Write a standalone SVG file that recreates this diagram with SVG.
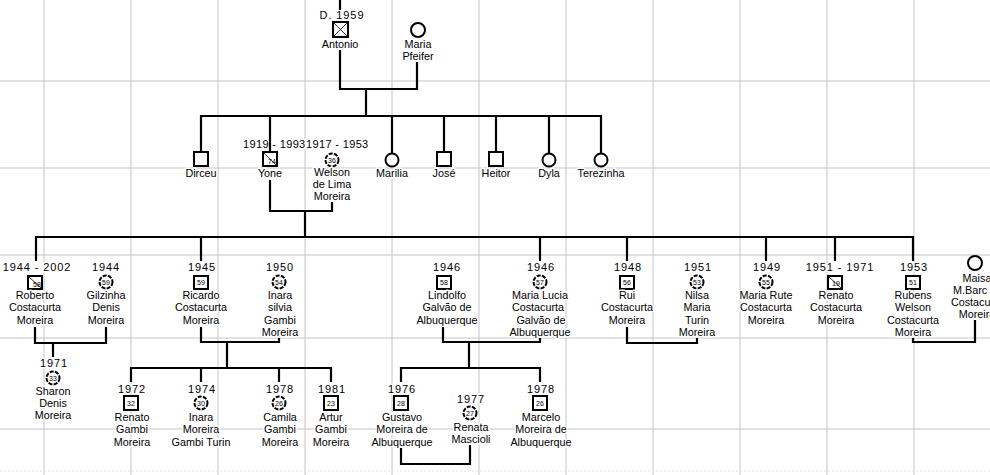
<svg xmlns="http://www.w3.org/2000/svg" width="990" height="475" viewBox="0 0 990 475">
<style>
.g{stroke:#c4c4c4;stroke-width:1;fill:none}
.c{stroke:#000;stroke-width:2.2;fill:none;stroke-linecap:square}
.b{fill:#fff;stroke:#000;stroke-width:2}
.o{fill:#fff;stroke:#000;stroke-width:2}
.on{fill:#fff;stroke:#000;stroke-width:2;stroke-dasharray:4 1.3}
.d{stroke:#000;stroke-width:0.8}
text{font-family:"Liberation Sans",Arial,sans-serif;fill:#000;text-anchor:middle;paint-order:stroke;stroke:#fff;stroke-width:3px;stroke-linejoin:round}
.t{font-size:10.8px}
.y{font-size:11px;letter-spacing:0.9px}
.yt{font-size:11px;letter-spacing:0.35px;text-anchor:start}
.n{font-size:7px;stroke:none}
</style>
<rect width="990" height="475" fill="#fff"/>
<g id="grid" class="g">
<path d="M44 0V475M131 0V475M218 0V475M305 0V475M392 0V475M479 0V475M566 0V475M653 0V475M740 0V475M827 0V475M914 0V475"/>
<path d="M0 81H990M0 168H990M0 255H990M0 338H990M0 429H990"/>
<path d="M0 471H990" stroke="#e6e6e6" stroke-dasharray="2 2"/>
</g>

<g id="antonio">
<text class="y" x="342" y="19">D. 1959</text>
<rect class="b" x="333" y="22" width="15" height="15"/>
<path class="d" d="M334 23L347 36M347 23L334 36"/>
<text class="t" x="340" y="48">Antonio</text>
</g>
<g id="maria-pfeifer">
<circle class="o" cx="418" cy="30" r="7"/>
<text class="t" x="418" y="48">Maria</text>
<text class="t" x="418" y="60">Pfeifer</text>
</g>

<g id="dirceu"><rect class="b" x="194" y="152" width="14" height="14"/><text class="t" x="201" y="177">Dirceu</text></g>
<g id="yone">
<text class="yt" x="243" y="148">1919 - 1993</text>
<rect class="b" x="263" y="152" width="14" height="14"/>
<line class="d" x1="264" y1="153" x2="276" y2="165"/>
<text class="n" x="272" y="164">74</text>
<text class="t" x="270" y="177">Yone</text>
</g>
<g id="welson">
<text class="yt" x="306" y="148">1917 - 1953</text>
<circle class="on" cx="332" cy="160" r="6.5"/>
<text class="n" x="332" y="162.5">36</text>
<text class="t" x="332" y="176">Welson</text>
<text class="t" x="332" y="188">de Lima</text>
<text class="t" x="332" y="200">Moreira</text>
</g>
<g id="marilia"><circle class="o" cx="392" cy="160" r="6.5"/><text class="t" x="392" y="177">Marilia</text></g>
<g id="jose"><rect class="b" x="437" y="152" width="14" height="14"/><text class="t" x="444" y="177">José</text></g>
<g id="heitor"><rect class="b" x="489" y="152" width="14" height="14"/><text class="t" x="496" y="177">Heitor</text></g>
<g id="dyla"><circle class="o" cx="549" cy="160" r="6.5"/><text class="t" x="549" y="177">Dyla</text></g>
<g id="terezinha"><circle class="o" cx="601" cy="160" r="6.5"/><text class="t" x="601" y="177">Terezinha</text></g>

<g id="roberto">
<text class="y" x="37" y="271">1944 - 2002</text>
<rect class="b" x="28" y="276" width="14" height="13"/>
<line class="d" x1="29" y1="277" x2="41" y2="288"/>
<text class="n" x="37" y="286.5">58</text>
<text class="t" x="35" y="299">Roberto</text><text class="t" x="35" y="311">Costacurta</text><text class="t" x="35" y="324">Moreira</text>
</g>
<g id="gilzinha">
<text class="y" x="106" y="271">1944</text>
<circle class="on" cx="106" cy="282" r="6.5"/><text class="n" x="106" y="284.5">59</text>
<text class="t" x="106" y="299">Gilzinha</text><text class="t" x="106" y="311">Denis</text><text class="t" x="106" y="324">Moreira</text>
</g>
<g id="ricardo">
<text class="y" x="202" y="271">1945</text>
<rect class="b" x="194" y="276" width="14" height="13"/><text class="n" x="201" y="285">59</text>
<text class="t" x="201" y="299">Ricardo</text><text class="t" x="201" y="311">Costacurta</text><text class="t" x="201" y="324">Moreira</text>
</g>
<g id="inara-silvia">
<text class="y" x="280" y="271">1950</text>
<circle class="on" cx="279" cy="282" r="6.5"/><text class="n" x="279" y="284.5">54</text>
<text class="t" x="280" y="299">Inara</text><text class="t" x="280" y="311">silvia</text><text class="t" x="280" y="324">Gambi</text><text class="t" x="280" y="336">Moreira</text>
</g>
<g id="lindolfo">
<text class="y" x="447" y="271">1946</text>
<rect class="b" x="437" y="276" width="14" height="13"/><text class="n" x="444" y="285">58</text>
<text class="t" x="447" y="299">Lindolfo</text><text class="t" x="447" y="311">Galvão de</text><text class="t" x="447" y="324">Albuquerque</text>
</g>
<g id="maria-lucia">
<text class="y" x="541" y="271">1946</text>
<circle class="on" cx="540" cy="282" r="6.5"/><text class="n" x="540" y="284.5">57</text>
<text class="t" x="540" y="299">Maria Lucia</text><text class="t" x="538" y="311">Costacurta</text><text class="t" x="541" y="324">Galvão de</text><text class="t" x="540" y="336">Albuquerque</text>
</g>
<g id="rui">
<text class="y" x="628" y="271">1948</text>
<rect class="b" x="620" y="276" width="14" height="13"/><text class="n" x="627" y="285">56</text>
<text class="t" x="627" y="299">Rui</text><text class="t" x="627" y="311">Costacurta</text><text class="t" x="627" y="324">Moreira</text>
</g>
<g id="nilsa">
<text class="y" x="698" y="271">1951</text>
<circle class="on" cx="697" cy="282" r="6.5"/><text class="n" x="697" y="284.5">53</text>
<text class="t" x="697" y="299">Nilsa</text><text class="t" x="697" y="311">Maria</text><text class="t" x="697" y="324">Turin</text><text class="t" x="697" y="336">Moreira</text>
</g>
<g id="maria-rute">
<text class="y" x="767" y="271">1949</text>
<circle class="on" cx="766" cy="282" r="6.5"/><text class="n" x="766" y="284.5">55</text>
<text class="t" x="766" y="299">Maria Rute</text><text class="t" x="766" y="311">Costacurta</text><text class="t" x="766" y="324">Moreira</text>
</g>
<g id="renato-1951">
<text class="y" x="840" y="271">1951 - 1971</text>
<rect class="b" x="828" y="276" width="14" height="13"/>
<line class="d" x1="829" y1="277" x2="841" y2="288"/>
<text class="n" x="836" y="286">19</text>
<text class="t" x="836" y="299">Renato</text><text class="t" x="836" y="311">Costacurta</text><text class="t" x="836" y="324">Moreira</text>
</g>
<g id="rubens">
<text class="y" x="914" y="271">1953</text>
<rect class="b" x="906" y="276" width="14" height="13"/><text class="n" x="913" y="285">51</text>
<text class="t" x="913" y="299">Rubens</text><text class="t" x="913" y="311">Welson</text><text class="t" x="913" y="324">Costacurta</text><text class="t" x="913" y="336">Moreira</text>
</g>
<g id="maisa">
<circle class="o" cx="975" cy="263" r="7"/>
<text class="t" x="977" y="282">Maisa</text>
<text class="t" x="953" y="294" style="text-anchor:start">M.Barc</text>
<text class="t" x="977" y="306">Costacurta</text>
<text class="t" x="977" y="318">Moreira</text>
</g>

<g id="sharon">
<text class="y" x="54" y="367">1971</text>
<circle class="on" cx="53" cy="378" r="6.5"/><text class="n" x="53" y="380.5">33</text>
<text class="t" x="53" y="395">Sharon</text><text class="t" x="53" y="407">Denis</text><text class="t" x="53" y="419">Moreira</text>
</g>
<g id="renato-1972">
<text class="y" x="132" y="393">1972</text>
<rect class="b" x="124" y="396" width="14" height="14"/><text class="n" x="131" y="405.5">32</text>
<text class="t" x="132" y="421">Renato</text><text class="t" x="132" y="433">Gambi</text><text class="t" x="132" y="446">Moreira</text>
</g>
<g id="inara-1974">
<text class="y" x="202" y="393">1974</text>
<circle class="on" cx="201" cy="403" r="6.5"/><text class="n" x="201" y="405.5">30</text>
<text class="t" x="201" y="421">Inara</text><text class="t" x="201" y="433">Moreira</text><text class="t" x="201" y="446">Gambi Turin</text>
</g>
<g id="camila">
<text class="y" x="280" y="393">1978</text>
<circle class="on" cx="279" cy="403" r="6.5"/><text class="n" x="279" y="405.5">26</text>
<text class="t" x="280" y="421">Camila</text><text class="t" x="280" y="433">Gambi</text><text class="t" x="280" y="446">Moreira</text>
</g>
<g id="artur">
<text class="y" x="332" y="393">1981</text>
<rect class="b" x="324" y="396" width="14" height="14"/><text class="n" x="331" y="405.5">23</text>
<text class="t" x="331" y="421">Artur</text><text class="t" x="331" y="433">Gambi</text><text class="t" x="331" y="446">Moreira</text>
</g>
<g id="gustavo">
<text class="y" x="402" y="393">1976</text>
<rect class="b" x="394" y="396" width="14" height="14"/><text class="n" x="401" y="405.5">28</text>
<text class="t" x="402" y="421">Gustavo</text><text class="t" x="402" y="433">Moreira de</text><text class="t" x="402" y="446">Albuquerque</text>
</g>
<g id="renata">
<text class="y" x="471" y="403">1977</text>
<circle class="on" cx="470" cy="413" r="6.5"/><text class="n" x="470" y="415.5">27</text>
<text class="t" x="471" y="431">Renata</text><text class="t" x="471" y="443">Mascioli</text>
</g>
<g id="marcelo">
<text class="y" x="541" y="393">1978</text>
<rect class="b" x="533" y="396" width="14" height="14"/><text class="n" x="540" y="405.5">26</text>
<text class="t" x="541" y="421">Marcelo</text><text class="t" x="541" y="433">Moreira de</text><text class="t" x="541" y="446">Albuquerque</text>
</g>

<g id="connectors" class="c">
<path d="M340 0V9M340 51V89H417V63M366 89V116"/>
<path d="M201 116H601M201 116V152M270 116V152M392 116V153M444 116V152M496 116V152M549 116V153M601 116V153"/>
<path d="M270 181V211H332V203M305 211V237"/>
<path d="M36 237H913M36 237V260M201 237V260M540 237V260M627 237V260M766 237V260M835 237V260M913 237V260"/>
<path d="M35 328V343H106V328M53 343V356"/>
<path d="M201 328V342H279V339M227 342V368M131 368H331M131 368V381M201 368V381M279 368V381M331 368V381"/>
<path d="M443 328V342H540V339M469 342V368M401 368H540M401 368V381M540 368V381"/>
<path d="M401 449V464H470V446"/>
<path d="M627 328V343H697V339"/>
<path d="M913 339V342H975V321"/>
</g>
</svg>
